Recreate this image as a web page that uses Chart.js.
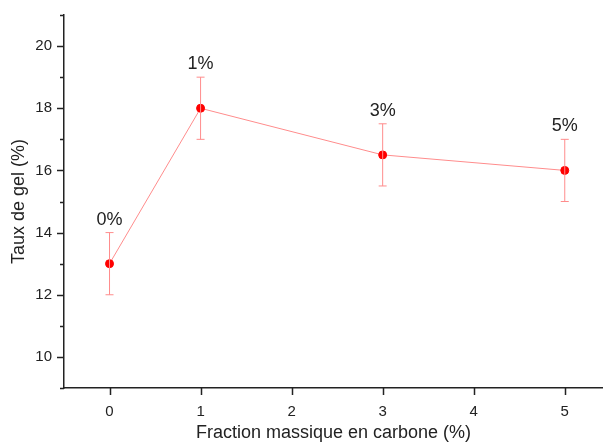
<!DOCTYPE html>
<html>
<head>
<meta charset="utf-8">
<script src="https://cdn.jsdelivr.net/npm/chart.js@4.4.0/dist/chart.umd.min.js"></script>
<style>
  body { margin: 0; background: #fff; }
  canvas { display: block; }
</style>
</head>
<body>
<canvas id="gel-chart" width="603" height="444"></canvas>
<script>
// données
var fractions = [0, 1, 3, 5];
var tauxGel = [13, 18, 16.5, 16];
var erreurs = [1, 1, 1, 1];
var etiquettes = ['0%', '1%', '3%', '5%'];
var xTicks = [0, 1, 2, 3, 4, 5];
var yTicks = [10, 12, 14, 16, 18, 20];

var rouge = '#ff0000';
var rougeClair = '#ff8c8c';
var police = '"Liberation Sans", Arial, sans-serif';

// barres d'erreur + étiquettes + graduations (majeures et mineures)
var errorBarsPlugin = {
  id: 'errorBars',
  afterDatasetsDraw: function (chart) {
    var ctx = chart.ctx;
    var x = chart.scales.x, y = chart.scales.y;
    ctx.save();
    ctx.strokeStyle = rougeClair;
    ctx.lineWidth = 1;
    for (var i = 0; i < fractions.length; i++) {
      var px = x.getPixelForValue(fractions[i]);
      var hi = y.getPixelForValue(tauxGel[i] + erreurs[i]);
      var lo = y.getPixelForValue(tauxGel[i] - erreurs[i]);
      ctx.beginPath();
      ctx.moveTo(px, hi); ctx.lineTo(px, lo);
      ctx.moveTo(px - 4, hi); ctx.lineTo(px + 4, hi);
      ctx.moveTo(px - 4, lo); ctx.lineTo(px + 4, lo);
      ctx.stroke();
    }
    ctx.fillStyle = '#222';
    ctx.font = '18px ' + police;
    ctx.textAlign = 'center';
    ctx.textBaseline = 'middle';
    for (var j = 0; j < fractions.length; j++) {
      var lx = x.getPixelForValue(fractions[j]);
      var ly = y.getPixelForValue(tauxGel[j] + erreurs[j]) - 13;
      ctx.fillText(etiquettes[j], lx, ly);
    }
    ctx.restore();
  },
  afterDraw: function (chart) {
    var ctx = chart.ctx;
    var x = chart.scales.x, y = chart.scales.y;
    var area = chart.chartArea;
    ctx.save();
    ctx.strokeStyle = '#222';
    ctx.lineWidth = 1.5;
    ctx.beginPath();
    for (var v = 9; v <= 21; v++) {
      var py = Math.round(y.getPixelForValue(v)) + 0.5;
      var len = (v % 2 === 0) ? 7 : 4;
      ctx.moveTo(area.left - len, py); ctx.lineTo(area.left, py);
    }
    xTicks.forEach(function (t) {
      var px = Math.round(x.getPixelForValue(t)) + 0.5;
      ctx.moveTo(px, area.bottom); ctx.lineTo(px, area.bottom + 7);
    });
    ctx.stroke();
    ctx.restore();
  }
};

new Chart(document.getElementById('gel-chart'), {
  type: 'scatter',
  data: {
    datasets: [{
      data: fractions.map(function (f, i) { return { x: f, y: tauxGel[i] }; }),
      showLine: true,
      borderColor: rougeClair,
      borderWidth: 1,
      backgroundColor: rouge,
      pointBackgroundColor: rouge,
      pointBorderColor: rouge,
      pointRadius: 4,
      pointBorderWidth: 1
    }]
  },
  options: {
    responsive: false,
    animation: false,
    layout: { autoPadding: false, padding: { top: 15, right: 0, left: 0, bottom: 0 } },
    plugins: { legend: { display: false }, tooltip: { enabled: false } },
    scales: {
      x: {
        type: 'linear',
        min: -0.5,
        max: 5.42,
        afterFit: function (s) { s.height = 56; s.paddingLeft = 0; s.paddingRight = 0; },
        afterBuildTicks: function (s) {
          s.ticks = xTicks.map(function (v) { return { value: v }; });
        },
        grid: { drawOnChartArea: false, drawTicks: false },
        border: { color: '#222', width: 1.5 },
        ticks: {
          padding: 15,
          color: '#222',
          font: { family: police, size: 15 },
          maxRotation: 0
        },
        title: {
          display: true,
          text: 'Fraction massique en carbone (%)',
          color: '#222',
          font: { family: police, size: 18 },
          padding: { top: 0, bottom: 0 }
        }
      },
      y: {
        min: 9,
        max: 21,
        afterFit: function (s) { s.width = 64; s.paddingTop = 0; s.paddingBottom = 0; },
        afterBuildTicks: function (s) {
          s.ticks = yTicks.map(function (v) { return { value: v }; });
        },
        grid: { drawOnChartArea: false, drawTicks: false },
        border: { color: '#222', width: 1.5 },
        ticks: {
          padding: 12,
          color: '#222',
          font: { family: police, size: 15 }
        },
        title: {
          display: true,
          text: 'Taux de gel (%)',
          color: '#222',
          font: { family: police, size: 18 },
          padding: { top: 8, bottom: 0 }
        }
      }
    }
  },
  plugins: [errorBarsPlugin]
});
</script>
</body>
</html>
